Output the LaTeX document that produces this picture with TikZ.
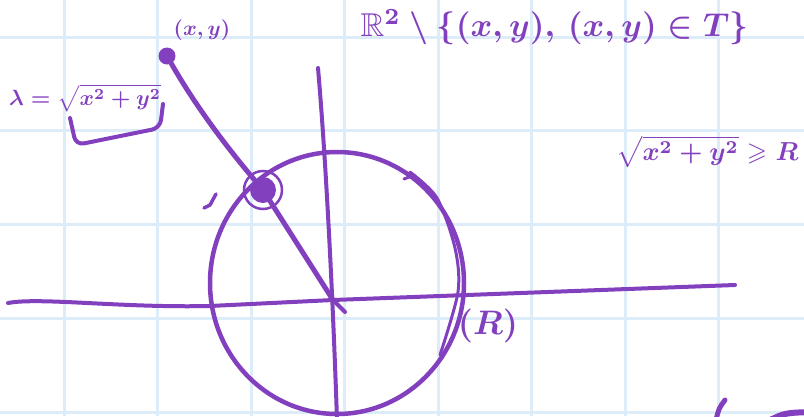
\documentclass[tikz,border=0pt]{standalone}
\usepackage{amsmath,amssymb}
\usepackage{tikz}
\usetikzlibrary{positioning, calc}
\usepackage{xcolor}

\definecolor{ink}{RGB}{130,64,190}
\definecolor{gridblue}{RGB}{220,237,249}

\tikzset{
  pen/.style={draw=ink, line width=5pt, line cap=round, line join=round},
  axis/.style={draw=ink, line width=4pt, line cap=round, line join=round},
  hand/.style={text=ink, inner sep=0pt, font=\boldmath, transform shape},
  gridline/.style={draw=gridblue, line width=3pt},
}

\begin{document}
\begin{tikzpicture}[x=1pt, y=-1pt]
  \useasboundingbox (0,0) rectangle (804,416);
  \clip (0,0) rectangle (804,416);
  \fill[white] (0,0) rectangle (804,416);

  % Grid paper
  \foreach \gx in {0,...,7} {
    \draw[gridline] (64+93.5*\gx, 0) -- (64+93.5*\gx, 416);
  }
  \foreach \gy in {0,...,4} {
    \draw[gridline] (0, 37+93.75*\gy) -- (804, 37+93.75*\gy);
  }

  % Axes
  \coordinate (o) at (333,300);
  \coordinate (xl) at (8,303);
  \coordinate (xr) at (735,285);
  \coordinate (yt) at (318,68);
  \coordinate (yb) at (337,420);
  \draw[axis] (xl) .. controls (40,297) and (120,308) .. (210,306) -- (o) -- (xr);
  \draw[axis] (yt) .. controls (326,160) and (333,300) .. (yb);
  \draw[axis] (o) -- ++(12,12);

  % Circle
  \draw[pen, line width=4.5pt] (337,283) ellipse [x radius=127pt, y radius=131pt];
  \draw[pen, line width=3pt] plot[smooth] coordinates {(410,172) (437,198) (455,248) (458,292) (440,355)};

  % Point on the circle
  \node[circle, fill=ink, inner sep=0pt, minimum size=26pt] (pt) at (263,190) {};
  \draw[ink, line width=2.5pt] (pt) circle [radius=19pt];

  % Point (x,y)
  \node[circle, fill=ink, inner sep=0pt, minimum size=17pt] (xy) at (167,56) {};
  \draw[pen] (xy) .. controls (195,105) and (225,145) .. (pt);
  \draw[pen] (pt) -- (o);

  % Labels
  \node[hand, scale=2.1] (xylabel) at (202,30) {$(x,y)$};
  \node[hand, scale=2.2] (lambdalabel) at (85,98) {$\lambda=\sqrt{x^2+y^2}$};
  \draw[pen, line width=4pt, rounded corners=8pt] (70,118) -- (76,145) -- (160,128) -- (163,104);
  \node[hand, scale=2.6, anchor=west] (ineq) at (616,152) {$\sqrt{x^2+y^2}\geqslant R$};
  \node[hand, scale=3.4] (rlabel) at (488,326) {$(R)$};
  \node[hand, scale=3.3, anchor=base west] (toptext) at (360,36) {$\mathbb{R}^2\setminus\{(x,y),\,(x,y)\in T\}$};

  % Stray marks
  \draw[pen, line width=3.5pt] (204,208) -- (210,205) -- (216,194);
  \draw[pen, line width=3pt] (404,179) -- (414,175);
  \draw[pen] (716,420) .. controls (719,408) .. (725,400);
  \draw[pen, line width=6pt] (770,420) .. controls (785,413) .. (810,412);
\end{tikzpicture}
\end{document}
